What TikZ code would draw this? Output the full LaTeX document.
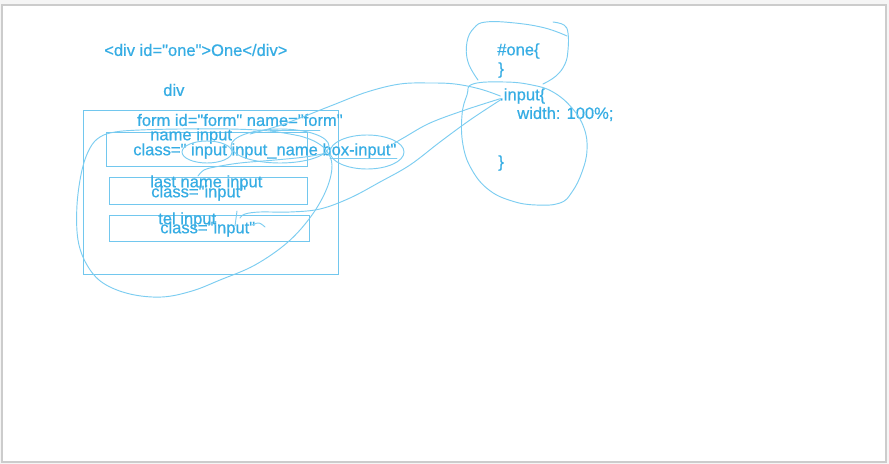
\documentclass[tikz,border=0pt]{standalone}
\usepackage{fontspec}
% plain family: straight quotes, lightly emboldened strokes
\newfontfamily\labelfont[FakeBold=0.6]{Liberation Sans}
\definecolor{ink}{HTML}{36ADE4}
\definecolor{frame}{HTML}{72C7EE}
\definecolor{pen}{HTML}{7CCDF1}
\begin{document}
\begin{tikzpicture}[x=0.75pt,y=-0.75pt,
  txt/.style={anchor=west,inner sep=0pt,text=ink,font=\labelfont\fontsize{12.4}{14}\selectfont},
  boxframe/.style={draw=frame,line width=0.9pt,inner sep=0pt,anchor=north west},
  sketch/.style={draw=pen,line width=0.7pt,line cap=round,line join=round}]
% page and sheet
\fill[black!4] (0,0) rectangle (889,464);
\useasboundingbox (0,0) rectangle (889,464);
\filldraw[fill=white,draw=black!20,line width=1.1pt] (2,5) rectangle (886,462);

% HTML side
\node[txt] (divone) at (104,50) {<div id="one">One</div>};
\node[txt] (divlabel) at (163,90) {div};
\node[boxframe,minimum width=191.25pt,minimum height=123pt] (formbox) at (83,110) {};
\node[txt] (formlabel) at (137,120) {form id="form" name="form"};
\node[boxframe,minimum width=150.75pt,minimum height=25.5pt] (box1) at (106,132) {};
\node[boxframe,minimum width=148.5pt,minimum height=20.25pt] (box2) at (109,177) {};
\node[boxframe,minimum width=150pt,minimum height=19.5pt] (box3) at (109,215) {};
\node[txt] (name1) at (150,136) {name input};
\node[txt] (class1) at (133,151) {class=" input  input\_name box-input"};
\node[txt] (name2) at (150,183) {last name input};
\node[txt] (class2) at (151,193) {class="input"};
\node[txt] (name3) at (158,220) {tel input};
\node[txt] (class3) at (160,229) {class="input"};

% CSS side
\node[txt] (onerule) at (497,51) {\#one\{};
\node[txt] (oneclose) at (498,70) {\}};
\node[txt] (inputrule) at (499,96) {.input\{};
\node[txt] (widthdecl) at (517,114) {width: 100\%;};
\node[txt] (inputclose) at (498,163) {\}};

% circled class names
\draw[sketch] (207,152) ellipse [x radius=25, y radius=11];
\draw[sketch] (280,146) ellipse [x radius=49, y radius=17];
\draw[sketch] (367,152) ellipse [x radius=37, y radius=17];
\draw[sketch] (330,158) -- (397,158);
\draw[sketch] (270,130) -- (320,130);

% loops round the two rules
\draw[sketch] plot[smooth,tension=0.7] coordinates {(553,22) (564,25) (568,33) (568,50) (565,64) (556,76) (543,84)};
\draw[sketch] plot[smooth,tension=0.7] coordinates {(478,80) (468,62) (467,42) (474,28) (486,22) (515,23) (545,28) (567,36)};
\draw[sketch] plot[smooth cycle,tension=0.7] coordinates {(473,84) (505,82) (532,85) (553,92) (572,108) (584,128) (587,150) (582,172) (572,192) (560,203) (536,205) (512,201) (489,190) (472,170) (463,145) (462,115) (467,95)};

% loop round the three inputs
\draw[sketch] plot[smooth,tension=0.6] coordinates {(300,136) (270,131) (230,129) (180,129) (140,130) (115,132) (100,137) (90,148) (82,170) (77,205) (78,240) (87,265) (103,283) (130,294) (162,297) (192,291) (220,280) (255,265) (288,242) (312,215) (327,188) (332,165) (326,150) (314,141) (300,136)};
\draw[sketch] plot[smooth,tension=0.6] coordinates {(198,176) (204,170) (215,167) (240,163) (275,160) (305,157) (327,153)};

% strokes from the markup to the .input rule
\coordinate (endA) at ([xshift=1pt,yshift=0pt]inputrule.west);
\coordinate (endB) at ([xshift=1pt,yshift=-2pt]inputrule.west);
\coordinate (endC) at ([xshift=1pt,yshift=-3pt]inputrule.west);
\draw[sketch] plot[smooth,tension=0.6] coordinates {(endA) (480,89) (455,84) (430,83) (400,84) (367,92) (333,105) (300,118) (275,127) (250,134)};
\draw[sketch] plot[smooth,tension=0.6] coordinates {(endB) (465,110) (430,123) (405,137) (393,144)};
\draw[sketch] plot[smooth,tension=0.6] coordinates {(endC) (470,120) (440,142) (410,165) (380,182) (350,198) (320,209) (290,212) (260,212) (245,214) (240,218)};
\draw[sketch] (237,211) -- (235,226);
\draw[sketch] plot[smooth,tension=0.6] coordinates {(252,225) (259,223) (265,227)};
\end{tikzpicture}
\end{document}
